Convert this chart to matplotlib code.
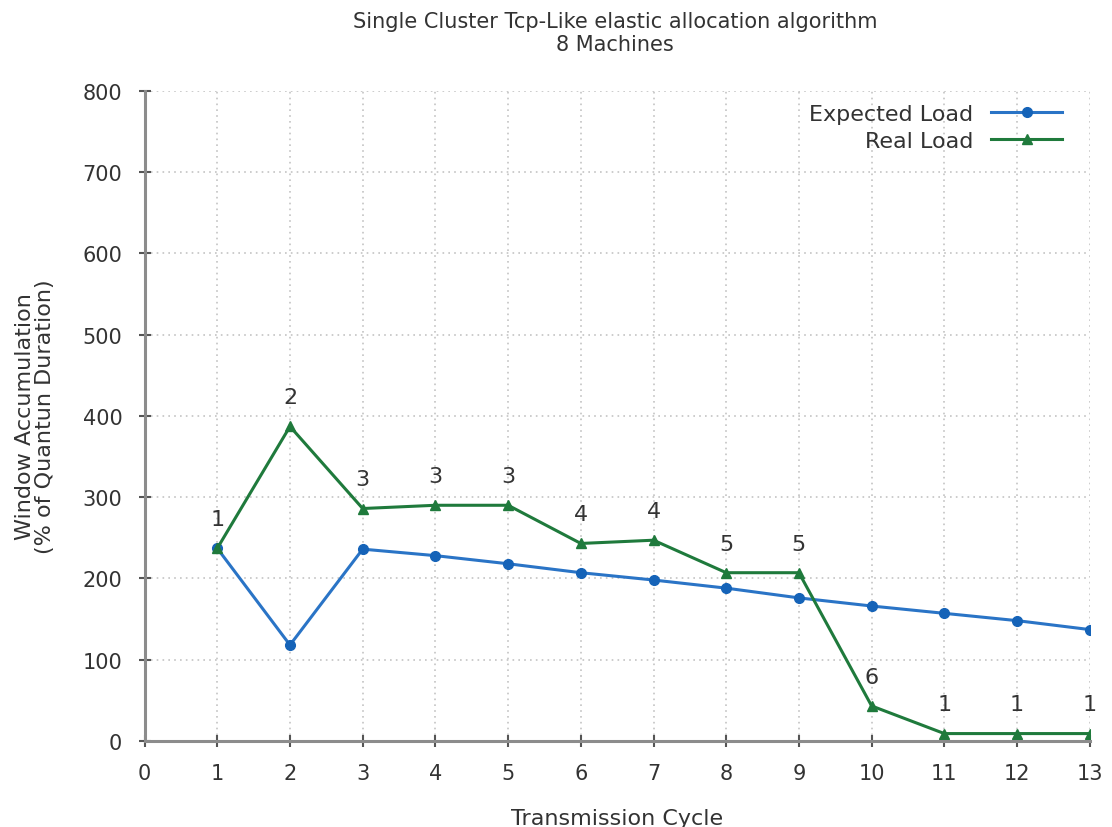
import matplotlib
matplotlib.use("Agg")
import matplotlib.pyplot as plt

# Données
cycles = [1, 2, 3, 4, 5, 6, 7, 8, 9, 10, 11, 12, 13]
expected_load = [237, 118, 236, 228, 218, 207, 198, 188, 176, 166, 157, 148, 137]
real_load = [237, 387, 286, 290, 290, 243, 247, 207, 207, 43, 9, 9, 9]
machines = [1, 2, 3, 3, 3, 4, 4, 5, 5, 6, 1, 1, 1]

blue = "#2a74c6"
green = "#1f7a3c"
axis_grey = "#8c8c8c"

plt.rcParams["font.family"] = "DejaVu Sans"

fig = plt.figure(figsize=(11.12, 8.28), dpi=100)
ax = fig.add_axes([0.130, 0.104, 0.850, 0.785])

ax.plot(cycles, expected_load, color=blue, linewidth=2.2, marker="o",
        markersize=7, markerfacecolor="#1563b8", markeredgecolor="#1563b8",
        label="Expected Load")
ax.plot(cycles, real_load, color=green, linewidth=2.2, marker="^",
        markersize=7, markerfacecolor=green, markeredgecolor=green,
        label="Real Load")

for x, y, m in zip(cycles, real_load, machines):
    ax.annotate(str(m), (x, y), xytext=(0, 21), textcoords="offset points",
                ha="center", va="center", fontsize=16, color="#333333")

ax.set_xlim(0, 13)
ax.set_ylim(0, 800)
ax.set_xticks(range(0, 14))
ax.set_yticks(range(0, 801, 100))

ax.grid(True, color="#c4c4c4", linestyle=(0, (1, 2.5)), linewidth=1.2)
ax.set_axisbelow(True)

for side in ["top", "right"]:
    ax.spines[side].set_visible(False)
for side in ["left", "bottom"]:
    ax.spines[side].set_color(axis_grey)
    ax.spines[side].set_linewidth(2.2)

ax.tick_params(direction="inout", length=8, width=1.5, color="#555555",
               labelsize=15, labelcolor="#333333", pad=12)

ax.set_xlabel("Transmission Cycle", fontsize=16, color="#333333", labelpad=18)
ax.set_ylabel("Window Accumulation\n(% of Quantun Duration)", fontsize=16,
              color="#333333", labelpad=20, linespacing=1.0)

fig.suptitle("Single Cluster Tcp-Like elastic allocation algorithm\n8 Machines",
             x=0.553, y=0.985, fontsize=15, color="#333333", linespacing=1.15)

leg = ax.legend(loc="upper right", frameon=False, markerfirst=False,
                fontsize=16, handlelength=3.2, borderaxespad=0.2,
                labelspacing=0.3, bbox_to_anchor=(0.985, 1.0))
for t in leg.get_texts():
    t.set_color("#333333")

fig.savefig("out.png", dpi=100)
